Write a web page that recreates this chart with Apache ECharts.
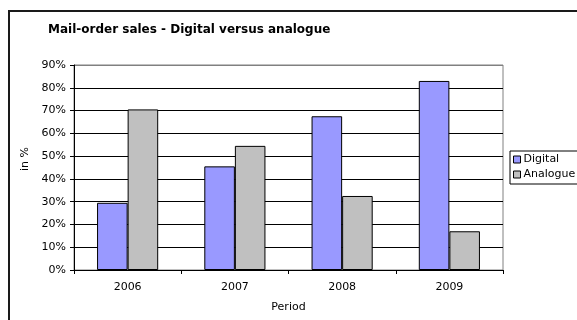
<!DOCTYPE html>
<html>
<head>
<meta charset="utf-8">
<script src="https://cdn.jsdelivr.net/npm/echarts@6/dist/echarts.min.js"></script>
<style>
html,body{margin:0;padding:0;background:#fff;}
#chart{width:577px;height:320px;}
</style>
</head>
<body>
<div id="chart"></div>
<script>
var categories = ['2006', '2007', '2008', '2009'];
var digital = [29.5, 45.5, 67.5, 83];
var analogue = [70.5, 54.5, 32.5, 17];
var yTicks = [0, 10, 20, 30, 40, 50, 60, 70, 80, 90];
var seriesNames = ['Digital', 'Analogue'];

var FONT = 'DejaVu Sans';
var chart = echarts.init(document.getElementById('chart'), null, {renderer: 'canvas'});
var gridColors = yTicks.map(function (v, i) { return i === yTicks.length - 1 ? '#808080' : '#000000'; });

chart.setOption({
  animation: false,
  backgroundColor: '#ffffff',
  textStyle: {fontFamily: FONT},
  title: {
    text: 'Mail-order sales - Digital versus analogue',
    left: 48, top: 24, padding: 0,
    textStyle: {fontFamily: FONT, fontSize: 12, fontWeight: 'bold', color: '#000'}
  },
  graphic: [{
    type: 'rect', z: 100, silent: true,
    shape: {x: 9, y: 11, width: 700, height: 400},
    style: {fill: 'none', stroke: '#1a1a1a', lineWidth: 2}
  }],
  legend: {
    orient: 'vertical',
    left: 510, top: 151,
    data: seriesNames,
    icon: 'rect',
    itemWidth: 7, itemHeight: 7,
    itemGap: 4,
    padding: [3, 40, 4, 3],
    borderColor: '#000', borderWidth: 1,
    textStyle: {fontFamily: FONT, fontSize: 11, color: '#000', padding: [0, 0, 0, -2]},
    itemStyle: {borderColor: '#000', borderWidth: 1}
  },
  grid: {left: 74, right: 74, top: 65, bottom: 50, containLabel: false,
         show: true, borderColor: '#808080', borderWidth: 1},
  xAxis: {
    type: 'category', data: categories,
    name: 'Period', nameLocation: 'middle', nameGap: 32,
    nameTextStyle: {fontFamily: FONT, fontSize: 11, color: '#000'},
    axisLine: {lineStyle: {color: '#000', width: 1}},
    axisTick: {show: true, length: 4, lineStyle: {color: '#000'}},
    axisLabel: {fontFamily: FONT, fontSize: 11, color: '#000', margin: 12},
    splitLine: {show: false}
  },
  yAxis: {
    type: 'value', min: 0, max: 90, interval: 10,
    name: 'in %', nameLocation: 'middle', nameGap: 28,
    nameTextStyle: {fontFamily: FONT, fontSize: 11, color: '#000', padding: [0, 0, 0, 17]},
    axisLine: {show: true, lineStyle: {color: '#000', width: 1}},
    axisTick: {show: true, length: 4, lineStyle: {color: '#000'}},
    axisLabel: {fontFamily: FONT, fontSize: 11, color: '#000', margin: 8,
      formatter: function (v) { return v + '%'; }},
    splitLine: {show: true, lineStyle: {color: gridColors, width: 1}}
  },
  series: [{
    name: seriesNames[0], type: 'bar', data: digital,
    barGap: '0%', barCategoryGap: '43%',
    itemStyle: {color: '#9999FF', borderColor: '#000', borderWidth: 1}
  }, {
    name: seriesNames[1], type: 'bar', data: analogue,
    barGap: '0%', barCategoryGap: '43%',
    itemStyle: {color: '#C0C0C0', borderColor: '#000', borderWidth: 1}
  }]
});
</script>
</body>
</html>
